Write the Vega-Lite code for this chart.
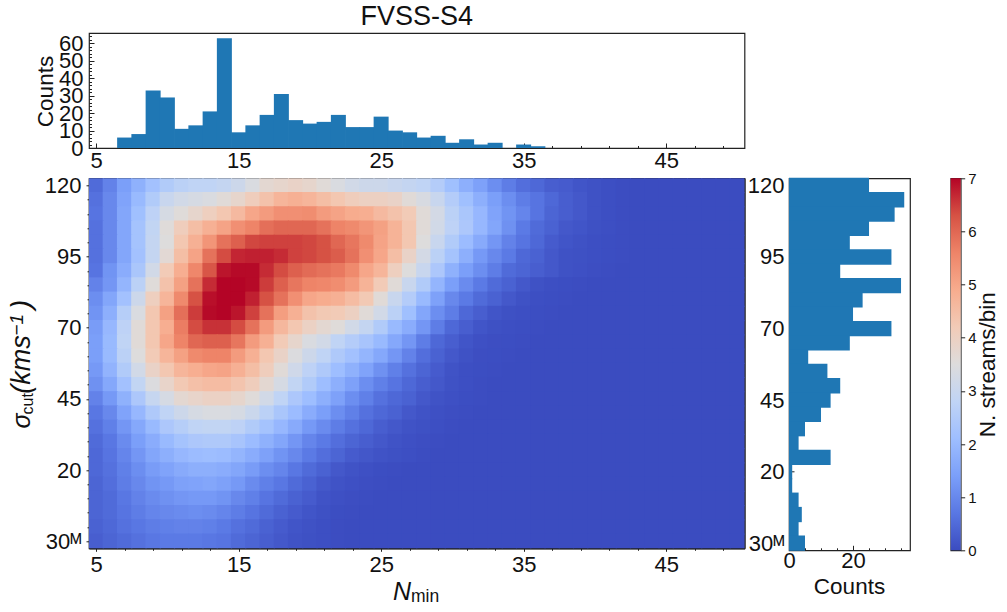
{"$schema":"https://vega.github.io/schema/vega-lite/v6.json","description":"FVSS-S4 stream counts by Nmin and sigma cut","background":"white","padding":{"left":6,"top":2,"right":0,"bottom":0},
"config":{"font":"Liberation Sans","view":{"stroke":"#222222","strokeWidth":1.2},"axis":{"domain":false,"domainColor":"#222222","domainWidth":1.2,"grid":false,"labelFontSize":22,"labelColor":"#111111","labelOverlap":false,"labelBound":false,"labelFlush":false,"tickColor":"#222222","tickWidth":1,"titleFontSize":22.5,"titleFontWeight":"normal","titleColor":"#111111","zindex":1}},
"datasets":{"topHist":[{"n":7,"c":6},{"n":8,"c":8},{"n":9,"c":33},{"n":10,"c":29},{"n":11,"c":11},{"n":12,"c":13},{"n":13,"c":21},{"n":14,"c":63},{"n":15,"c":9},{"n":16,"c":13},{"n":17,"c":19},{"n":18,"c":31},{"n":19,"c":16},{"n":20,"c":14},{"n":21,"c":15},{"n":22,"c":19},{"n":23,"c":12},{"n":24,"c":12},{"n":25,"c":18},{"n":26,"c":10},{"n":27,"c":9},{"n":28,"c":6},{"n":29,"c":7},{"n":30,"c":3},{"n":31,"c":5},{"n":32,"c":2},{"n":33,"c":3},{"n":35,"c":2},{"n":36,"c":1}],
"rightHist":[{"s":120,"c":25},{"s":115,"c":36},{"s":110,"c":33},{"s":105,"c":25},{"s":100,"c":19},{"s":95,"c":32},{"s":90,"c":16},{"s":85,"c":35},{"s":80,"c":23},{"s":75,"c":20},{"s":70,"c":32},{"s":65,"c":19},{"s":60,"c":6},{"s":55,"c":12},{"s":50,"c":16},{"s":45,"c":13},{"s":40,"c":10},{"s":35,"c":5},{"s":30,"c":3},{"s":25,"c":13},{"s":20,"c":1},{"s":15,"c":1},{"s":10,"c":3},{"s":5,"c":4},{"s":0,"c":3},{"s":-5,"c":5}],
"heat":[
{"n":5,"s":120,"v":0.5},{"n":6,"s":120,"v":0.9},{"n":7,"s":120,"v":1.4},{"n":8,"s":120,"v":1.8},{"n":9,"s":120,"v":2.2},{"n":10,"s":120,"v":2.5},{"n":11,"s":120,"v":2.7},{"n":12,"s":120,"v":2.8},{"n":13,"s":120,"v":2.8},{"n":14,"s":120,"v":2.9},{"n":15,"s":120,"v":3.1},{"n":16,"s":120,"v":3.4},{"n":17,"s":120,"v":3.7},{"n":18,"s":120,"v":3.8},{"n":19,"s":120,"v":3.9},{"n":20,"s":120,"v":3.8},{"n":21,"s":120,"v":3.6},{"n":22,"s":120,"v":3.4},{"n":23,"s":120,"v":3.2},{"n":24,"s":120,"v":3.1},{"n":25,"s":120,"v":3.1},{"n":26,"s":120,"v":3},{"n":27,"s":120,"v":2.9},{"n":28,"s":120,"v":2.8},{"n":29,"s":120,"v":2.55},{"n":30,"s":120,"v":2.15},{"n":31,"s":120,"v":1.75},{"n":32,"s":120,"v":1.45},{"n":33,"s":120,"v":1.1},{"n":34,"s":120,"v":0.8},{"n":35,"s":120,"v":0.55},{"n":36,"s":120,"v":0.45},{"n":37,"s":120,"v":0.3},{"n":38,"s":120,"v":0.25},{"n":39,"s":120,"v":0.15},{"n":40,"s":120,"v":0.1},{"n":41,"s":120,"v":0.05},{"n":42,"s":120,"v":0.02},{"n":43,"s":120,"v":0},{"n":44,"s":120,"v":0},{"n":45,"s":120,"v":0},{"n":46,"s":120,"v":0},{"n":47,"s":120,"v":0},{"n":48,"s":120,"v":0},{"n":49,"s":120,"v":0},{"n":50,"s":120,"v":0},
{"n":5,"s":115,"v":0.6},{"n":6,"s":115,"v":1},{"n":7,"s":115,"v":1.5},{"n":8,"s":115,"v":2},{"n":9,"s":115,"v":2.5},{"n":10,"s":115,"v":3},{"n":11,"s":115,"v":3.2},{"n":12,"s":115,"v":3.3},{"n":13,"s":115,"v":3.4},{"n":14,"s":115,"v":3.6},{"n":15,"s":115,"v":3.8},{"n":16,"s":115,"v":4.1},{"n":17,"s":115,"v":4.4},{"n":18,"s":115,"v":4.7},{"n":19,"s":115,"v":4.8},{"n":20,"s":115,"v":4.7},{"n":21,"s":115,"v":4.5},{"n":22,"s":115,"v":4.3},{"n":23,"s":115,"v":4.1},{"n":24,"s":115,"v":4},{"n":25,"s":115,"v":4},{"n":26,"s":115,"v":3.9},{"n":27,"s":115,"v":3.6},{"n":28,"s":115,"v":3.35},{"n":29,"s":115,"v":3},{"n":30,"s":115,"v":2.55},{"n":31,"s":115,"v":2.15},{"n":32,"s":115,"v":1.75},{"n":33,"s":115,"v":1.4},{"n":34,"s":115,"v":1.1},{"n":35,"s":115,"v":0.8},{"n":36,"s":115,"v":0.65},{"n":37,"s":115,"v":0.45},{"n":38,"s":115,"v":0.3},{"n":39,"s":115,"v":0.2},{"n":40,"s":115,"v":0.1},{"n":41,"s":115,"v":0.05},{"n":42,"s":115,"v":0.02},{"n":43,"s":115,"v":0},{"n":44,"s":115,"v":0},{"n":45,"s":115,"v":0},{"n":46,"s":115,"v":0},{"n":47,"s":115,"v":0},{"n":48,"s":115,"v":0},{"n":49,"s":115,"v":0},{"n":50,"s":115,"v":0},
{"n":5,"s":110,"v":0.65},{"n":6,"s":110,"v":1},{"n":7,"s":110,"v":1.55},{"n":8,"s":110,"v":2.15},{"n":9,"s":110,"v":2.75},{"n":10,"s":110,"v":3.3},{"n":11,"s":110,"v":3.55},{"n":12,"s":110,"v":3.8},{"n":13,"s":110,"v":4.05},{"n":14,"s":110,"v":4.3},{"n":15,"s":110,"v":4.6},{"n":16,"s":110,"v":5},{"n":17,"s":110,"v":5.2},{"n":18,"s":110,"v":5.4},{"n":19,"s":110,"v":5.4},{"n":20,"s":110,"v":5.45},{"n":21,"s":110,"v":5.2},{"n":22,"s":110,"v":5.05},{"n":23,"s":110,"v":4.9},{"n":24,"s":110,"v":4.85},{"n":25,"s":110,"v":4.6},{"n":26,"s":110,"v":4.4},{"n":27,"s":110,"v":4.2},{"n":28,"s":110,"v":3.6},{"n":29,"s":110,"v":3.25},{"n":30,"s":110,"v":2.7},{"n":31,"s":110,"v":2.35},{"n":32,"s":110,"v":1.95},{"n":33,"s":110,"v":1.5},{"n":34,"s":110,"v":1.2},{"n":35,"s":110,"v":0.95},{"n":36,"s":110,"v":0.65},{"n":37,"s":110,"v":0.4},{"n":38,"s":110,"v":0.3},{"n":39,"s":110,"v":0.2},{"n":40,"s":110,"v":0.1},{"n":41,"s":110,"v":0.05},{"n":42,"s":110,"v":0.02},{"n":43,"s":110,"v":0},{"n":44,"s":110,"v":0},{"n":45,"s":110,"v":0},{"n":46,"s":110,"v":0},{"n":47,"s":110,"v":0},{"n":48,"s":110,"v":0},{"n":49,"s":110,"v":0},{"n":50,"s":110,"v":0},
{"n":5,"s":105,"v":0.6},{"n":6,"s":105,"v":1},{"n":7,"s":105,"v":1.55},{"n":8,"s":105,"v":2.25},{"n":9,"s":105,"v":2.85},{"n":10,"s":105,"v":3.55},{"n":11,"s":105,"v":4.1},{"n":12,"s":105,"v":4.5},{"n":13,"s":105,"v":4.8},{"n":14,"s":105,"v":5.05},{"n":15,"s":105,"v":5.4},{"n":16,"s":105,"v":5.6},{"n":17,"s":105,"v":5.9},{"n":18,"s":105,"v":6},{"n":19,"s":105,"v":6},{"n":20,"s":105,"v":6},{"n":21,"s":105,"v":5.85},{"n":22,"s":105,"v":5.6},{"n":23,"s":105,"v":5.5},{"n":24,"s":105,"v":5.3},{"n":25,"s":105,"v":5.1},{"n":26,"s":105,"v":4.75},{"n":27,"s":105,"v":4.3},{"n":28,"s":105,"v":3.6},{"n":29,"s":105,"v":3.2},{"n":30,"s":105,"v":2.75},{"n":31,"s":105,"v":2.4},{"n":32,"s":105,"v":1.95},{"n":33,"s":105,"v":1.55},{"n":34,"s":105,"v":1.15},{"n":35,"s":105,"v":0.75},{"n":36,"s":105,"v":0.5},{"n":37,"s":105,"v":0.35},{"n":38,"s":105,"v":0.2},{"n":39,"s":105,"v":0.15},{"n":40,"s":105,"v":0.08},{"n":41,"s":105,"v":0.05},{"n":42,"s":105,"v":0.02},{"n":43,"s":105,"v":0},{"n":44,"s":105,"v":0},{"n":45,"s":105,"v":0},{"n":46,"s":105,"v":0},{"n":47,"s":105,"v":0},{"n":48,"s":105,"v":0},{"n":49,"s":105,"v":0},{"n":50,"s":105,"v":0},
{"n":5,"s":100,"v":0.6},{"n":6,"s":100,"v":1},{"n":7,"s":100,"v":1.55},{"n":8,"s":100,"v":2.25},{"n":9,"s":100,"v":2.9},{"n":10,"s":100,"v":3.5},{"n":11,"s":100,"v":4.3},{"n":12,"s":100,"v":4.8},{"n":13,"s":100,"v":5.3},{"n":14,"s":100,"v":5.85},{"n":15,"s":100,"v":6.1},{"n":16,"s":100,"v":6.4},{"n":17,"s":100,"v":6.45},{"n":18,"s":100,"v":6.45},{"n":19,"s":100,"v":6.45},{"n":20,"s":100,"v":6.4},{"n":21,"s":100,"v":6.3},{"n":22,"s":100,"v":6},{"n":23,"s":100,"v":5.8},{"n":24,"s":100,"v":5.5},{"n":25,"s":100,"v":5.05},{"n":26,"s":100,"v":4.75},{"n":27,"s":100,"v":4.3},{"n":28,"s":100,"v":3.5},{"n":29,"s":100,"v":3},{"n":30,"s":100,"v":2.5},{"n":31,"s":100,"v":2.05},{"n":32,"s":100,"v":1.65},{"n":33,"s":100,"v":1.25},{"n":34,"s":100,"v":0.9},{"n":35,"s":100,"v":0.65},{"n":36,"s":100,"v":0.45},{"n":37,"s":100,"v":0.25},{"n":38,"s":100,"v":0.15},{"n":39,"s":100,"v":0.1},{"n":40,"s":100,"v":0.05},{"n":41,"s":100,"v":0.03},{"n":42,"s":100,"v":0.02},{"n":43,"s":100,"v":0},{"n":44,"s":100,"v":0},{"n":45,"s":100,"v":0},{"n":46,"s":100,"v":0},{"n":47,"s":100,"v":0},{"n":48,"s":100,"v":0},{"n":49,"s":100,"v":0},{"n":50,"s":100,"v":0},
{"n":5,"s":95,"v":0.6},{"n":6,"s":95,"v":1},{"n":7,"s":95,"v":1.55},{"n":8,"s":95,"v":2.2},{"n":9,"s":95,"v":2.9},{"n":10,"s":95,"v":3.65},{"n":11,"s":95,"v":4.5},{"n":12,"s":95,"v":5.05},{"n":13,"s":95,"v":5.85},{"n":14,"s":95,"v":6.35},{"n":15,"s":95,"v":6.7},{"n":16,"s":95,"v":6.75},{"n":17,"s":95,"v":6.75},{"n":18,"s":95,"v":6.65},{"n":19,"s":95,"v":6.45},{"n":20,"s":95,"v":6.4},{"n":21,"s":95,"v":6.3},{"n":22,"s":95,"v":6.15},{"n":23,"s":95,"v":5.85},{"n":24,"s":95,"v":5.4},{"n":25,"s":95,"v":5},{"n":26,"s":95,"v":4.5},{"n":27,"s":95,"v":3.9},{"n":28,"s":95,"v":3.25},{"n":29,"s":95,"v":2.7},{"n":30,"s":95,"v":2.25},{"n":31,"s":95,"v":1.75},{"n":32,"s":95,"v":1.3},{"n":33,"s":95,"v":1},{"n":34,"s":95,"v":0.75},{"n":35,"s":95,"v":0.45},{"n":36,"s":95,"v":0.35},{"n":37,"s":95,"v":0.2},{"n":38,"s":95,"v":0.1},{"n":39,"s":95,"v":0.08},{"n":40,"s":95,"v":0.05},{"n":41,"s":95,"v":0.03},{"n":42,"s":95,"v":0.02},{"n":43,"s":95,"v":0},{"n":44,"s":95,"v":0},{"n":45,"s":95,"v":0},{"n":46,"s":95,"v":0},{"n":47,"s":95,"v":0},{"n":48,"s":95,"v":0},{"n":49,"s":95,"v":0},{"n":50,"s":95,"v":0},
{"n":5,"s":90,"v":0.65},{"n":6,"s":90,"v":1.2},{"n":7,"s":90,"v":1.7},{"n":8,"s":90,"v":2.35},{"n":9,"s":90,"v":3.2},{"n":10,"s":90,"v":4.2},{"n":11,"s":90,"v":4.85},{"n":12,"s":90,"v":5.55},{"n":13,"s":90,"v":6.25},{"n":14,"s":90,"v":6.85},{"n":15,"s":90,"v":6.95},{"n":16,"s":90,"v":6.95},{"n":17,"s":90,"v":6.65},{"n":18,"s":90,"v":6.35},{"n":19,"s":90,"v":6.1},{"n":20,"s":90,"v":5.95},{"n":21,"s":90,"v":5.85},{"n":22,"s":90,"v":5.75},{"n":23,"s":90,"v":5.5},{"n":24,"s":90,"v":5},{"n":25,"s":90,"v":4.7},{"n":26,"s":90,"v":4.05},{"n":27,"s":90,"v":3.5},{"n":28,"s":90,"v":3},{"n":29,"s":90,"v":2.4},{"n":30,"s":90,"v":1.8},{"n":31,"s":90,"v":1.4},{"n":32,"s":90,"v":1.1},{"n":33,"s":90,"v":0.8},{"n":34,"s":90,"v":0.5},{"n":35,"s":90,"v":0.4},{"n":36,"s":90,"v":0.3},{"n":37,"s":90,"v":0.2},{"n":38,"s":90,"v":0.1},{"n":39,"s":90,"v":0.07},{"n":40,"s":90,"v":0.04},{"n":41,"s":90,"v":0.02},{"n":42,"s":90,"v":0},{"n":43,"s":90,"v":0},{"n":44,"s":90,"v":0},{"n":45,"s":90,"v":0},{"n":46,"s":90,"v":0},{"n":47,"s":90,"v":0},{"n":48,"s":90,"v":0},{"n":49,"s":90,"v":0},{"n":50,"s":90,"v":0},
{"n":5,"s":85,"v":0.9},{"n":6,"s":85,"v":1.25},{"n":7,"s":85,"v":1.9},{"n":8,"s":85,"v":2.7},{"n":9,"s":85,"v":3.55},{"n":10,"s":85,"v":4.4},{"n":11,"s":85,"v":5.1},{"n":12,"s":85,"v":5.85},{"n":13,"s":85,"v":6.65},{"n":14,"s":85,"v":7},{"n":15,"s":85,"v":7},{"n":16,"s":85,"v":6.95},{"n":17,"s":85,"v":6.5},{"n":18,"s":85,"v":6.1},{"n":19,"s":85,"v":5.8},{"n":20,"s":85,"v":5.6},{"n":21,"s":85,"v":5.55},{"n":22,"s":85,"v":5.45},{"n":23,"s":85,"v":5.2},{"n":24,"s":85,"v":4.75},{"n":25,"s":85,"v":4.2},{"n":26,"s":85,"v":3.6},{"n":27,"s":85,"v":3},{"n":28,"s":85,"v":2.5},{"n":29,"s":85,"v":1.9},{"n":30,"s":85,"v":1.4},{"n":31,"s":85,"v":1.05},{"n":32,"s":85,"v":0.75},{"n":33,"s":85,"v":0.5},{"n":34,"s":85,"v":0.35},{"n":35,"s":85,"v":0.2},{"n":36,"s":85,"v":0.1},{"n":37,"s":85,"v":0.05},{"n":38,"s":85,"v":0.03},{"n":39,"s":85,"v":0.02},{"n":40,"s":85,"v":0},{"n":41,"s":85,"v":0},{"n":42,"s":85,"v":0},{"n":43,"s":85,"v":0},{"n":44,"s":85,"v":0},{"n":45,"s":85,"v":0},{"n":46,"s":85,"v":0},{"n":47,"s":85,"v":0},{"n":48,"s":85,"v":0},{"n":49,"s":85,"v":0},{"n":50,"s":85,"v":0},
{"n":5,"s":80,"v":1.1},{"n":6,"s":80,"v":1.55},{"n":7,"s":80,"v":2.2},{"n":8,"s":80,"v":3.1},{"n":9,"s":80,"v":4.05},{"n":10,"s":80,"v":4.7},{"n":11,"s":80,"v":5.5},{"n":12,"s":80,"v":6.3},{"n":13,"s":80,"v":6.9},{"n":14,"s":80,"v":7},{"n":15,"s":80,"v":7},{"n":16,"s":80,"v":6.75},{"n":17,"s":80,"v":6.3},{"n":18,"s":80,"v":5.85},{"n":19,"s":80,"v":5.4},{"n":20,"s":80,"v":5},{"n":21,"s":80,"v":4.9},{"n":22,"s":80,"v":4.8},{"n":23,"s":80,"v":4.55},{"n":24,"s":80,"v":4.25},{"n":25,"s":80,"v":3.6},{"n":26,"s":80,"v":3},{"n":27,"s":80,"v":2.55},{"n":28,"s":80,"v":2},{"n":29,"s":80,"v":1.45},{"n":30,"s":80,"v":1},{"n":31,"s":80,"v":0.75},{"n":32,"s":80,"v":0.5},{"n":33,"s":80,"v":0.35},{"n":34,"s":80,"v":0.2},{"n":35,"s":80,"v":0.1},{"n":36,"s":80,"v":0.05},{"n":37,"s":80,"v":0.03},{"n":38,"s":80,"v":0.02},{"n":39,"s":80,"v":0},{"n":40,"s":80,"v":0},{"n":41,"s":80,"v":0},{"n":42,"s":80,"v":0},{"n":43,"s":80,"v":0},{"n":44,"s":80,"v":0},{"n":45,"s":80,"v":0},{"n":46,"s":80,"v":0},{"n":47,"s":80,"v":0},{"n":48,"s":80,"v":0},{"n":49,"s":80,"v":0},{"n":50,"s":80,"v":0},
{"n":5,"s":75,"v":1.2},{"n":6,"s":75,"v":1.75},{"n":7,"s":75,"v":2.6},{"n":8,"s":75,"v":3.4},{"n":9,"s":75,"v":4.3},{"n":10,"s":75,"v":5.1},{"n":11,"s":75,"v":5.9},{"n":12,"s":75,"v":6.5},{"n":13,"s":75,"v":6.95},{"n":14,"s":75,"v":7},{"n":15,"s":75,"v":6.85},{"n":16,"s":75,"v":6.45},{"n":17,"s":75,"v":5.85},{"n":18,"s":75,"v":5.15},{"n":19,"s":75,"v":4.8},{"n":20,"s":75,"v":4.4},{"n":21,"s":75,"v":4.25},{"n":22,"s":75,"v":4.2},{"n":23,"s":75,"v":4},{"n":24,"s":75,"v":3.6},{"n":25,"s":75,"v":3.2},{"n":26,"s":75,"v":2.7},{"n":27,"s":75,"v":2.15},{"n":28,"s":75,"v":1.55},{"n":29,"s":75,"v":1.1},{"n":30,"s":75,"v":0.8},{"n":31,"s":75,"v":0.45},{"n":32,"s":75,"v":0.3},{"n":33,"s":75,"v":0.15},{"n":34,"s":75,"v":0.08},{"n":35,"s":75,"v":0.05},{"n":36,"s":75,"v":0.03},{"n":37,"s":75,"v":0.02},{"n":38,"s":75,"v":0},{"n":39,"s":75,"v":0},{"n":40,"s":75,"v":0},{"n":41,"s":75,"v":0},{"n":42,"s":75,"v":0},{"n":43,"s":75,"v":0},{"n":44,"s":75,"v":0},{"n":45,"s":75,"v":0},{"n":46,"s":75,"v":0},{"n":47,"s":75,"v":0},{"n":48,"s":75,"v":0},{"n":49,"s":75,"v":0},{"n":50,"s":75,"v":0},
{"n":5,"s":70,"v":1.35},{"n":6,"s":70,"v":1.95},{"n":7,"s":70,"v":2.75},{"n":8,"s":70,"v":3.6},{"n":9,"s":70,"v":4.3},{"n":10,"s":70,"v":4.85},{"n":11,"s":70,"v":5.7},{"n":12,"s":70,"v":6.35},{"n":13,"s":70,"v":6.6},{"n":14,"s":70,"v":6.6},{"n":15,"s":70,"v":6.35},{"n":16,"s":70,"v":5.85},{"n":17,"s":70,"v":5.2},{"n":18,"s":70,"v":4.65},{"n":19,"s":70,"v":4.3},{"n":20,"s":70,"v":3.95},{"n":21,"s":70,"v":3.7},{"n":22,"s":70,"v":3.55},{"n":23,"s":70,"v":3.2},{"n":24,"s":70,"v":2.9},{"n":25,"s":70,"v":2.5},{"n":26,"s":70,"v":2},{"n":27,"s":70,"v":1.7},{"n":28,"s":70,"v":1.25},{"n":29,"s":70,"v":0.8},{"n":30,"s":70,"v":0.45},{"n":31,"s":70,"v":0.3},{"n":32,"s":70,"v":0.15},{"n":33,"s":70,"v":0.08},{"n":34,"s":70,"v":0.05},{"n":35,"s":70,"v":0.03},{"n":36,"s":70,"v":0.02},{"n":37,"s":70,"v":0},{"n":38,"s":70,"v":0},{"n":39,"s":70,"v":0},{"n":40,"s":70,"v":0},{"n":41,"s":70,"v":0},{"n":42,"s":70,"v":0},{"n":43,"s":70,"v":0},{"n":44,"s":70,"v":0},{"n":45,"s":70,"v":0},{"n":46,"s":70,"v":0},{"n":47,"s":70,"v":0},{"n":48,"s":70,"v":0},{"n":49,"s":70,"v":0},{"n":50,"s":70,"v":0},
{"n":5,"s":65,"v":1.4},{"n":6,"s":65,"v":2},{"n":7,"s":65,"v":2.8},{"n":8,"s":65,"v":3.6},{"n":9,"s":65,"v":4.3},{"n":10,"s":65,"v":5},{"n":11,"s":65,"v":5.6},{"n":12,"s":65,"v":6},{"n":13,"s":65,"v":6.1},{"n":14,"s":65,"v":6.1},{"n":15,"s":65,"v":5.8},{"n":16,"s":65,"v":5.2},{"n":17,"s":65,"v":4.8},{"n":18,"s":65,"v":4.2},{"n":19,"s":65,"v":3.8},{"n":20,"s":65,"v":3.4},{"n":21,"s":65,"v":3.2},{"n":22,"s":65,"v":2.8},{"n":23,"s":65,"v":2.55},{"n":24,"s":65,"v":2.3},{"n":25,"s":65,"v":2},{"n":26,"s":65,"v":1.6},{"n":27,"s":65,"v":1.25},{"n":28,"s":65,"v":0.8},{"n":29,"s":65,"v":0.45},{"n":30,"s":65,"v":0.3},{"n":31,"s":65,"v":0.15},{"n":32,"s":65,"v":0.07},{"n":33,"s":65,"v":0.04},{"n":34,"s":65,"v":0.03},{"n":35,"s":65,"v":0.02},{"n":36,"s":65,"v":0},{"n":37,"s":65,"v":0},{"n":38,"s":65,"v":0},{"n":39,"s":65,"v":0},{"n":40,"s":65,"v":0},{"n":41,"s":65,"v":0},{"n":42,"s":65,"v":0},{"n":43,"s":65,"v":0},{"n":44,"s":65,"v":0},{"n":45,"s":65,"v":0},{"n":46,"s":65,"v":0},{"n":47,"s":65,"v":0},{"n":48,"s":65,"v":0},{"n":49,"s":65,"v":0},{"n":50,"s":65,"v":0},
{"n":5,"s":60,"v":1.4},{"n":6,"s":60,"v":2},{"n":7,"s":60,"v":2.7},{"n":8,"s":60,"v":3.5},{"n":9,"s":60,"v":4.2},{"n":10,"s":60,"v":4.7},{"n":11,"s":60,"v":5.1},{"n":12,"s":60,"v":5.5},{"n":13,"s":60,"v":5.6},{"n":14,"s":60,"v":5.6},{"n":15,"s":60,"v":5.2},{"n":16,"s":60,"v":4.8},{"n":17,"s":60,"v":4.3},{"n":18,"s":60,"v":3.9},{"n":19,"s":60,"v":3.45},{"n":20,"s":60,"v":3.1},{"n":21,"s":60,"v":2.8},{"n":22,"s":60,"v":2.45},{"n":23,"s":60,"v":2.2},{"n":24,"s":60,"v":1.9},{"n":25,"s":60,"v":1.6},{"n":26,"s":60,"v":1.25},{"n":27,"s":60,"v":0.9},{"n":28,"s":60,"v":0.55},{"n":29,"s":60,"v":0.35},{"n":30,"s":60,"v":0.2},{"n":31,"s":60,"v":0.1},{"n":32,"s":60,"v":0.04},{"n":33,"s":60,"v":0.03},{"n":34,"s":60,"v":0.02},{"n":35,"s":60,"v":0},{"n":36,"s":60,"v":0},{"n":37,"s":60,"v":0},{"n":38,"s":60,"v":0},{"n":39,"s":60,"v":0},{"n":40,"s":60,"v":0},{"n":41,"s":60,"v":0},{"n":42,"s":60,"v":0},{"n":43,"s":60,"v":0},{"n":44,"s":60,"v":0},{"n":45,"s":60,"v":0},{"n":46,"s":60,"v":0},{"n":47,"s":60,"v":0},{"n":48,"s":60,"v":0},{"n":49,"s":60,"v":0},{"n":50,"s":60,"v":0},
{"n":5,"s":55,"v":1.3},{"n":6,"s":55,"v":1.85},{"n":7,"s":55,"v":2.5},{"n":8,"s":55,"v":3.2},{"n":9,"s":55,"v":3.9},{"n":10,"s":55,"v":4.3},{"n":11,"s":55,"v":4.7},{"n":12,"s":55,"v":4.85},{"n":13,"s":55,"v":5},{"n":14,"s":55,"v":5.05},{"n":15,"s":55,"v":4.8},{"n":16,"s":55,"v":4.5},{"n":17,"s":55,"v":4.1},{"n":18,"s":55,"v":3.6},{"n":19,"s":55,"v":3.15},{"n":20,"s":55,"v":2.75},{"n":21,"s":55,"v":2.45},{"n":22,"s":55,"v":2.1},{"n":23,"s":55,"v":1.8},{"n":24,"s":55,"v":1.5},{"n":25,"s":55,"v":1.15},{"n":26,"s":55,"v":0.85},{"n":27,"s":55,"v":0.6},{"n":28,"s":55,"v":0.4},{"n":29,"s":55,"v":0.25},{"n":30,"s":55,"v":0.12},{"n":31,"s":55,"v":0.05},{"n":32,"s":55,"v":0.03},{"n":33,"s":55,"v":0.02},{"n":34,"s":55,"v":0},{"n":35,"s":55,"v":0},{"n":36,"s":55,"v":0},{"n":37,"s":55,"v":0},{"n":38,"s":55,"v":0},{"n":39,"s":55,"v":0},{"n":40,"s":55,"v":0},{"n":41,"s":55,"v":0},{"n":42,"s":55,"v":0},{"n":43,"s":55,"v":0},{"n":44,"s":55,"v":0},{"n":45,"s":55,"v":0},{"n":46,"s":55,"v":0},{"n":47,"s":55,"v":0},{"n":48,"s":55,"v":0},{"n":49,"s":55,"v":0},{"n":50,"s":55,"v":0},
{"n":5,"s":50,"v":1.15},{"n":6,"s":50,"v":1.6},{"n":7,"s":50,"v":2.2},{"n":8,"s":50,"v":2.85},{"n":9,"s":50,"v":3.45},{"n":10,"s":50,"v":3.85},{"n":11,"s":50,"v":4.25},{"n":12,"s":50,"v":4.45},{"n":13,"s":50,"v":4.55},{"n":14,"s":50,"v":4.55},{"n":15,"s":50,"v":4.35},{"n":16,"s":50,"v":4.1},{"n":17,"s":50,"v":3.7},{"n":18,"s":50,"v":3.3},{"n":19,"s":50,"v":2.85},{"n":20,"s":50,"v":2.5},{"n":21,"s":50,"v":2.1},{"n":22,"s":50,"v":1.75},{"n":23,"s":50,"v":1.45},{"n":24,"s":50,"v":1.1},{"n":25,"s":50,"v":0.85},{"n":26,"s":50,"v":0.65},{"n":27,"s":50,"v":0.45},{"n":28,"s":50,"v":0.3},{"n":29,"s":50,"v":0.2},{"n":30,"s":50,"v":0.1},{"n":31,"s":50,"v":0.05},{"n":32,"s":50,"v":0.02},{"n":33,"s":50,"v":0},{"n":34,"s":50,"v":0},{"n":35,"s":50,"v":0},{"n":36,"s":50,"v":0},{"n":37,"s":50,"v":0},{"n":38,"s":50,"v":0},{"n":39,"s":50,"v":0},{"n":40,"s":50,"v":0},{"n":41,"s":50,"v":0},{"n":42,"s":50,"v":0},{"n":43,"s":50,"v":0},{"n":44,"s":50,"v":0},{"n":45,"s":50,"v":0},{"n":46,"s":50,"v":0},{"n":47,"s":50,"v":0},{"n":48,"s":50,"v":0},{"n":49,"s":50,"v":0},{"n":50,"s":50,"v":0},
{"n":5,"s":45,"v":0.9},{"n":6,"s":45,"v":1.3},{"n":7,"s":45,"v":1.8},{"n":8,"s":45,"v":2.4},{"n":9,"s":45,"v":2.95},{"n":10,"s":45,"v":3.3},{"n":11,"s":45,"v":3.7},{"n":12,"s":45,"v":3.85},{"n":13,"s":45,"v":3.95},{"n":14,"s":45,"v":3.95},{"n":15,"s":45,"v":3.8},{"n":16,"s":45,"v":3.55},{"n":17,"s":45,"v":3.2},{"n":18,"s":45,"v":2.8},{"n":19,"s":45,"v":2.4},{"n":20,"s":45,"v":2.1},{"n":21,"s":45,"v":1.75},{"n":22,"s":45,"v":1.45},{"n":23,"s":45,"v":1.1},{"n":24,"s":45,"v":0.85},{"n":25,"s":45,"v":0.6},{"n":26,"s":45,"v":0.45},{"n":27,"s":45,"v":0.35},{"n":28,"s":45,"v":0.2},{"n":29,"s":45,"v":0.12},{"n":30,"s":45,"v":0.07},{"n":31,"s":45,"v":0.03},{"n":32,"s":45,"v":0.02},{"n":33,"s":45,"v":0},{"n":34,"s":45,"v":0},{"n":35,"s":45,"v":0},{"n":36,"s":45,"v":0},{"n":37,"s":45,"v":0},{"n":38,"s":45,"v":0},{"n":39,"s":45,"v":0},{"n":40,"s":45,"v":0},{"n":41,"s":45,"v":0},{"n":42,"s":45,"v":0},{"n":43,"s":45,"v":0},{"n":44,"s":45,"v":0},{"n":45,"s":45,"v":0},{"n":46,"s":45,"v":0},{"n":47,"s":45,"v":0},{"n":48,"s":45,"v":0},{"n":49,"s":45,"v":0},{"n":50,"s":45,"v":0},
{"n":5,"s":40,"v":0.7},{"n":6,"s":40,"v":1},{"n":7,"s":40,"v":1.5},{"n":8,"s":40,"v":1.95},{"n":9,"s":40,"v":2.45},{"n":10,"s":40,"v":2.8},{"n":11,"s":40,"v":3.1},{"n":12,"s":40,"v":3.3},{"n":13,"s":40,"v":3.4},{"n":14,"s":40,"v":3.4},{"n":15,"s":40,"v":3.3},{"n":16,"s":40,"v":3.05},{"n":17,"s":40,"v":2.7},{"n":18,"s":40,"v":2.35},{"n":19,"s":40,"v":2.05},{"n":20,"s":40,"v":1.7},{"n":21,"s":40,"v":1.4},{"n":22,"s":40,"v":1.1},{"n":23,"s":40,"v":0.85},{"n":24,"s":40,"v":0.6},{"n":25,"s":40,"v":0.45},{"n":26,"s":40,"v":0.35},{"n":27,"s":40,"v":0.2},{"n":28,"s":40,"v":0.12},{"n":29,"s":40,"v":0.07},{"n":30,"s":40,"v":0.04},{"n":31,"s":40,"v":0.02},{"n":32,"s":40,"v":0},{"n":33,"s":40,"v":0},{"n":34,"s":40,"v":0},{"n":35,"s":40,"v":0},{"n":36,"s":40,"v":0},{"n":37,"s":40,"v":0},{"n":38,"s":40,"v":0},{"n":39,"s":40,"v":0},{"n":40,"s":40,"v":0},{"n":41,"s":40,"v":0},{"n":42,"s":40,"v":0},{"n":43,"s":40,"v":0},{"n":44,"s":40,"v":0},{"n":45,"s":40,"v":0},{"n":46,"s":40,"v":0},{"n":47,"s":40,"v":0},{"n":48,"s":40,"v":0},{"n":49,"s":40,"v":0},{"n":50,"s":40,"v":0},
{"n":5,"s":35,"v":0.6},{"n":6,"s":35,"v":0.85},{"n":7,"s":35,"v":1.25},{"n":8,"s":35,"v":1.6},{"n":9,"s":35,"v":2},{"n":10,"s":35,"v":2.4},{"n":11,"s":35,"v":2.6},{"n":12,"s":35,"v":2.8},{"n":13,"s":35,"v":2.85},{"n":14,"s":35,"v":2.85},{"n":15,"s":35,"v":2.75},{"n":16,"s":35,"v":2.5},{"n":17,"s":35,"v":2.25},{"n":18,"s":35,"v":1.95},{"n":19,"s":35,"v":1.65},{"n":20,"s":35,"v":1.3},{"n":21,"s":35,"v":1.05},{"n":22,"s":35,"v":0.8},{"n":23,"s":35,"v":0.6},{"n":24,"s":35,"v":0.45},{"n":25,"s":35,"v":0.3},{"n":26,"s":35,"v":0.2},{"n":27,"s":35,"v":0.12},{"n":28,"s":35,"v":0.08},{"n":29,"s":35,"v":0.05},{"n":30,"s":35,"v":0.02},{"n":31,"s":35,"v":0},{"n":32,"s":35,"v":0},{"n":33,"s":35,"v":0},{"n":34,"s":35,"v":0},{"n":35,"s":35,"v":0},{"n":36,"s":35,"v":0},{"n":37,"s":35,"v":0},{"n":38,"s":35,"v":0},{"n":39,"s":35,"v":0},{"n":40,"s":35,"v":0},{"n":41,"s":35,"v":0},{"n":42,"s":35,"v":0},{"n":43,"s":35,"v":0},{"n":44,"s":35,"v":0},{"n":45,"s":35,"v":0},{"n":46,"s":35,"v":0},{"n":47,"s":35,"v":0},{"n":48,"s":35,"v":0},{"n":49,"s":35,"v":0},{"n":50,"s":35,"v":0},
{"n":5,"s":30,"v":0.5},{"n":6,"s":30,"v":0.7},{"n":7,"s":30,"v":1.05},{"n":8,"s":30,"v":1.4},{"n":9,"s":30,"v":1.7},{"n":10,"s":30,"v":2},{"n":11,"s":30,"v":2.25},{"n":12,"s":30,"v":2.4},{"n":13,"s":30,"v":2.45},{"n":14,"s":30,"v":2.45},{"n":15,"s":30,"v":2.3},{"n":16,"s":30,"v":2.05},{"n":17,"s":30,"v":1.8},{"n":18,"s":30,"v":1.55},{"n":19,"s":30,"v":1.25},{"n":20,"s":30,"v":0.95},{"n":21,"s":30,"v":0.75},{"n":22,"s":30,"v":0.55},{"n":23,"s":30,"v":0.4},{"n":24,"s":30,"v":0.3},{"n":25,"s":30,"v":0.2},{"n":26,"s":30,"v":0.12},{"n":27,"s":30,"v":0.07},{"n":28,"s":30,"v":0.04},{"n":29,"s":30,"v":0.02},{"n":30,"s":30,"v":0},{"n":31,"s":30,"v":0},{"n":32,"s":30,"v":0},{"n":33,"s":30,"v":0},{"n":34,"s":30,"v":0},{"n":35,"s":30,"v":0},{"n":36,"s":30,"v":0},{"n":37,"s":30,"v":0},{"n":38,"s":30,"v":0},{"n":39,"s":30,"v":0},{"n":40,"s":30,"v":0},{"n":41,"s":30,"v":0},{"n":42,"s":30,"v":0},{"n":43,"s":30,"v":0},{"n":44,"s":30,"v":0},{"n":45,"s":30,"v":0},{"n":46,"s":30,"v":0},{"n":47,"s":30,"v":0},{"n":48,"s":30,"v":0},{"n":49,"s":30,"v":0},{"n":50,"s":30,"v":0},
{"n":5,"s":25,"v":0.45},{"n":6,"s":25,"v":0.65},{"n":7,"s":25,"v":0.95},{"n":8,"s":25,"v":1.25},{"n":9,"s":25,"v":1.55},{"n":10,"s":25,"v":1.75},{"n":11,"s":25,"v":1.95},{"n":12,"s":25,"v":2.05},{"n":13,"s":25,"v":2.1},{"n":14,"s":25,"v":2.05},{"n":15,"s":25,"v":1.9},{"n":16,"s":25,"v":1.7},{"n":17,"s":25,"v":1.45},{"n":18,"s":25,"v":1.2},{"n":19,"s":25,"v":1},{"n":20,"s":25,"v":0.75},{"n":21,"s":25,"v":0.55},{"n":22,"s":25,"v":0.4},{"n":23,"s":25,"v":0.25},{"n":24,"s":25,"v":0.18},{"n":25,"s":25,"v":0.12},{"n":26,"s":25,"v":0.08},{"n":27,"s":25,"v":0.05},{"n":28,"s":25,"v":0.02},{"n":29,"s":25,"v":0},{"n":30,"s":25,"v":0},{"n":31,"s":25,"v":0},{"n":32,"s":25,"v":0},{"n":33,"s":25,"v":0},{"n":34,"s":25,"v":0},{"n":35,"s":25,"v":0},{"n":36,"s":25,"v":0},{"n":37,"s":25,"v":0},{"n":38,"s":25,"v":0},{"n":39,"s":25,"v":0},{"n":40,"s":25,"v":0},{"n":41,"s":25,"v":0},{"n":42,"s":25,"v":0},{"n":43,"s":25,"v":0},{"n":44,"s":25,"v":0},{"n":45,"s":25,"v":0},{"n":46,"s":25,"v":0},{"n":47,"s":25,"v":0},{"n":48,"s":25,"v":0},{"n":49,"s":25,"v":0},{"n":50,"s":25,"v":0},
{"n":5,"s":20,"v":0.45},{"n":6,"s":20,"v":0.6},{"n":7,"s":20,"v":0.85},{"n":8,"s":20,"v":1.1},{"n":9,"s":20,"v":1.35},{"n":10,"s":20,"v":1.5},{"n":11,"s":20,"v":1.65},{"n":12,"s":20,"v":1.75},{"n":13,"s":20,"v":1.75},{"n":14,"s":20,"v":1.7},{"n":15,"s":20,"v":1.55},{"n":16,"s":20,"v":1.35},{"n":17,"s":20,"v":1.1},{"n":18,"s":20,"v":0.95},{"n":19,"s":20,"v":0.7},{"n":20,"s":20,"v":0.5},{"n":21,"s":20,"v":0.35},{"n":22,"s":20,"v":0.2},{"n":23,"s":20,"v":0.12},{"n":24,"s":20,"v":0.07},{"n":25,"s":20,"v":0.03},{"n":26,"s":20,"v":0.02},{"n":27,"s":20,"v":0},{"n":28,"s":20,"v":0},{"n":29,"s":20,"v":0},{"n":30,"s":20,"v":0},{"n":31,"s":20,"v":0},{"n":32,"s":20,"v":0},{"n":33,"s":20,"v":0},{"n":34,"s":20,"v":0},{"n":35,"s":20,"v":0},{"n":36,"s":20,"v":0},{"n":37,"s":20,"v":0},{"n":38,"s":20,"v":0},{"n":39,"s":20,"v":0},{"n":40,"s":20,"v":0},{"n":41,"s":20,"v":0},{"n":42,"s":20,"v":0},{"n":43,"s":20,"v":0},{"n":44,"s":20,"v":0},{"n":45,"s":20,"v":0},{"n":46,"s":20,"v":0},{"n":47,"s":20,"v":0},{"n":48,"s":20,"v":0},{"n":49,"s":20,"v":0},{"n":50,"s":20,"v":0},
{"n":5,"s":15,"v":0.4},{"n":6,"s":15,"v":0.55},{"n":7,"s":15,"v":0.8},{"n":8,"s":15,"v":1},{"n":9,"s":15,"v":1.2},{"n":10,"s":15,"v":1.3},{"n":11,"s":15,"v":1.45},{"n":12,"s":15,"v":1.5},{"n":13,"s":15,"v":1.55},{"n":14,"s":15,"v":1.45},{"n":15,"s":15,"v":1.3},{"n":16,"s":15,"v":1.05},{"n":17,"s":15,"v":0.85},{"n":18,"s":15,"v":0.7},{"n":19,"s":15,"v":0.5},{"n":20,"s":15,"v":0.35},{"n":21,"s":15,"v":0.2},{"n":22,"s":15,"v":0.12},{"n":23,"s":15,"v":0.07},{"n":24,"s":15,"v":0.04},{"n":25,"s":15,"v":0.02},{"n":26,"s":15,"v":0},{"n":27,"s":15,"v":0},{"n":28,"s":15,"v":0},{"n":29,"s":15,"v":0},{"n":30,"s":15,"v":0},{"n":31,"s":15,"v":0},{"n":32,"s":15,"v":0},{"n":33,"s":15,"v":0},{"n":34,"s":15,"v":0},{"n":35,"s":15,"v":0},{"n":36,"s":15,"v":0},{"n":37,"s":15,"v":0},{"n":38,"s":15,"v":0},{"n":39,"s":15,"v":0},{"n":40,"s":15,"v":0},{"n":41,"s":15,"v":0},{"n":42,"s":15,"v":0},{"n":43,"s":15,"v":0},{"n":44,"s":15,"v":0},{"n":45,"s":15,"v":0},{"n":46,"s":15,"v":0},{"n":47,"s":15,"v":0},{"n":48,"s":15,"v":0},{"n":49,"s":15,"v":0},{"n":50,"s":15,"v":0},
{"n":5,"s":10,"v":0.4},{"n":6,"s":10,"v":0.5},{"n":7,"s":10,"v":0.7},{"n":8,"s":10,"v":0.9},{"n":9,"s":10,"v":1.05},{"n":10,"s":10,"v":1.15},{"n":11,"s":10,"v":1.25},{"n":12,"s":10,"v":1.3},{"n":13,"s":10,"v":1.3},{"n":14,"s":10,"v":1.2},{"n":15,"s":10,"v":1},{"n":16,"s":10,"v":0.85},{"n":17,"s":10,"v":0.65},{"n":18,"s":10,"v":0.5},{"n":19,"s":10,"v":0.35},{"n":20,"s":10,"v":0.25},{"n":21,"s":10,"v":0.12},{"n":22,"s":10,"v":0.07},{"n":23,"s":10,"v":0.04},{"n":24,"s":10,"v":0.02},{"n":25,"s":10,"v":0},{"n":26,"s":10,"v":0},{"n":27,"s":10,"v":0},{"n":28,"s":10,"v":0},{"n":29,"s":10,"v":0},{"n":30,"s":10,"v":0},{"n":31,"s":10,"v":0},{"n":32,"s":10,"v":0},{"n":33,"s":10,"v":0},{"n":34,"s":10,"v":0},{"n":35,"s":10,"v":0},{"n":36,"s":10,"v":0},{"n":37,"s":10,"v":0},{"n":38,"s":10,"v":0},{"n":39,"s":10,"v":0},{"n":40,"s":10,"v":0},{"n":41,"s":10,"v":0},{"n":42,"s":10,"v":0},{"n":43,"s":10,"v":0},{"n":44,"s":10,"v":0},{"n":45,"s":10,"v":0},{"n":46,"s":10,"v":0},{"n":47,"s":10,"v":0},{"n":48,"s":10,"v":0},{"n":49,"s":10,"v":0},{"n":50,"s":10,"v":0},
{"n":5,"s":5,"v":0.4},{"n":6,"s":5,"v":0.5},{"n":7,"s":5,"v":0.65},{"n":8,"s":5,"v":0.8},{"n":9,"s":5,"v":0.95},{"n":10,"s":5,"v":1},{"n":11,"s":5,"v":1.05},{"n":12,"s":5,"v":1.1},{"n":13,"s":5,"v":1.05},{"n":14,"s":5,"v":0.95},{"n":15,"s":5,"v":0.8},{"n":16,"s":5,"v":0.65},{"n":17,"s":5,"v":0.5},{"n":18,"s":5,"v":0.35},{"n":19,"s":5,"v":0.25},{"n":20,"s":5,"v":0.15},{"n":21,"s":5,"v":0.08},{"n":22,"s":5,"v":0.03},{"n":23,"s":5,"v":0.02},{"n":24,"s":5,"v":0},{"n":25,"s":5,"v":0},{"n":26,"s":5,"v":0},{"n":27,"s":5,"v":0},{"n":28,"s":5,"v":0},{"n":29,"s":5,"v":0},{"n":30,"s":5,"v":0},{"n":31,"s":5,"v":0},{"n":32,"s":5,"v":0},{"n":33,"s":5,"v":0},{"n":34,"s":5,"v":0},{"n":35,"s":5,"v":0},{"n":36,"s":5,"v":0},{"n":37,"s":5,"v":0},{"n":38,"s":5,"v":0},{"n":39,"s":5,"v":0},{"n":40,"s":5,"v":0},{"n":41,"s":5,"v":0},{"n":42,"s":5,"v":0},{"n":43,"s":5,"v":0},{"n":44,"s":5,"v":0},{"n":45,"s":5,"v":0},{"n":46,"s":5,"v":0},{"n":47,"s":5,"v":0},{"n":48,"s":5,"v":0},{"n":49,"s":5,"v":0},{"n":50,"s":5,"v":0},
{"n":5,"s":0,"v":0.35},{"n":6,"s":0,"v":0.45},{"n":7,"s":0,"v":0.6},{"n":8,"s":0,"v":0.7},{"n":9,"s":0,"v":0.8},{"n":10,"s":0,"v":0.85},{"n":11,"s":0,"v":0.9},{"n":12,"s":0,"v":0.9},{"n":13,"s":0,"v":0.85},{"n":14,"s":0,"v":0.75},{"n":15,"s":0,"v":0.6},{"n":16,"s":0,"v":0.5},{"n":17,"s":0,"v":0.35},{"n":18,"s":0,"v":0.25},{"n":19,"s":0,"v":0.15},{"n":20,"s":0,"v":0.1},{"n":21,"s":0,"v":0.05},{"n":22,"s":0,"v":0.02},{"n":23,"s":0,"v":0},{"n":24,"s":0,"v":0},{"n":25,"s":0,"v":0},{"n":26,"s":0,"v":0},{"n":27,"s":0,"v":0},{"n":28,"s":0,"v":0},{"n":29,"s":0,"v":0},{"n":30,"s":0,"v":0},{"n":31,"s":0,"v":0},{"n":32,"s":0,"v":0},{"n":33,"s":0,"v":0},{"n":34,"s":0,"v":0},{"n":35,"s":0,"v":0},{"n":36,"s":0,"v":0},{"n":37,"s":0,"v":0},{"n":38,"s":0,"v":0},{"n":39,"s":0,"v":0},{"n":40,"s":0,"v":0},{"n":41,"s":0,"v":0},{"n":42,"s":0,"v":0},{"n":43,"s":0,"v":0},{"n":44,"s":0,"v":0},{"n":45,"s":0,"v":0},{"n":46,"s":0,"v":0},{"n":47,"s":0,"v":0},{"n":48,"s":0,"v":0},{"n":49,"s":0,"v":0},{"n":50,"s":0,"v":0},
{"n":5,"s":-5,"v":0.3},{"n":6,"s":-5,"v":0.4},{"n":7,"s":-5,"v":0.5},{"n":8,"s":-5,"v":0.6},{"n":9,"s":-5,"v":0.7},{"n":10,"s":-5,"v":0.75},{"n":11,"s":-5,"v":0.75},{"n":12,"s":-5,"v":0.75},{"n":13,"s":-5,"v":0.7},{"n":14,"s":-5,"v":0.65},{"n":15,"s":-5,"v":0.5},{"n":16,"s":-5,"v":0.4},{"n":17,"s":-5,"v":0.3},{"n":18,"s":-5,"v":0.2},{"n":19,"s":-5,"v":0.12},{"n":20,"s":-5,"v":0.08},{"n":21,"s":-5,"v":0.05},{"n":22,"s":-5,"v":0.02},{"n":23,"s":-5,"v":0},{"n":24,"s":-5,"v":0},{"n":25,"s":-5,"v":0},{"n":26,"s":-5,"v":0},{"n":27,"s":-5,"v":0},{"n":28,"s":-5,"v":0},{"n":29,"s":-5,"v":0},{"n":30,"s":-5,"v":0},{"n":31,"s":-5,"v":0},{"n":32,"s":-5,"v":0},{"n":33,"s":-5,"v":0},{"n":34,"s":-5,"v":0},{"n":35,"s":-5,"v":0},{"n":36,"s":-5,"v":0},{"n":37,"s":-5,"v":0},{"n":38,"s":-5,"v":0},{"n":39,"s":-5,"v":0},{"n":40,"s":-5,"v":0},{"n":41,"s":-5,"v":0},{"n":42,"s":-5,"v":0},{"n":43,"s":-5,"v":0},{"n":44,"s":-5,"v":0},{"n":45,"s":-5,"v":0},{"n":46,"s":-5,"v":0},{"n":47,"s":-5,"v":0},{"n":48,"s":-5,"v":0},{"n":49,"s":-5,"v":0},{"n":50,"s":-5,"v":0}
]},
"bounds":"flush","spacing":30.3,
"vconcat":[
{"width":655.5,"height":115,
"title":{"text":"FVSS-S4","fontSize":27,"fontWeight":"normal","color":"#111111","anchor":"middle","offset":-6},
"data":{"name":"topHist"},
"mark":{"type":"bar","width":15,"color":"#1f77b4"},
"encoding":{
"x":{"field":"n","type":"quantitative","scale":{"domain":[4.5,50.5],"nice":false,"zero":false,"padding":0},"axis":{"title":null,"orient":"bottom","values":[5,7,9,11,13,15,17,19,21,23,25,27,29,31,33,35,37,39,41,43,45,47,49],"tickSize":{"condition":{"test":"(datum.value-5)%10==0","value":-5},"value":-2.5},"labelPadding":7,"labelExpr":"(datum.value-5)%10==0?datum.label:''"}},
"y":{"field":"c","type":"quantitative","scale":{"domain":[0,66],"nice":false},"axis":{"title":"Counts","titleX":-36.8,"titleY":58,"titleAngle":270,"titleAlign":"center","titleBaseline":"alphabetic","values":[0,2,4,6,8,10,12,14,16,18,20,22,24,26,28,30,32,34,36,38,40,42,44,46,48,50,52,54,56,58,60,62,64],"tickSize":{"condition":{"test":"datum.value%10==0","value":-5},"value":-2.5},"labelPadding":11,"labelExpr":"datum.value%10==0?datum.label:''"}}
}},
{"bounds":"flush","spacing":44,
"hconcat":[
{"width":655.5,"height":370,
"layer":[
{"data":{"name":"heat"},
"mark":{"type":"rect","width":15.4,"height":15.4,"clip":true},
"encoding":{
"x":{"field":"n","type":"quantitative","scale":{"domain":[4.5,50.5],"nice":false,"zero":false},"axis":{"title":null,"orient":"bottom","domain":true,"values":[5,7,9,11,13,15,17,19,21,23,25,27,29,31,33,35,37,39,41,43,45,47,49],"tickSize":{"condition":{"test":"(datum.value-5)%10==0","value":3},"value":2},"labelPadding":3,"labelExpr":"(datum.value-5)%10==0?datum.label:''"}},
"y":{"field":"s","type":"quantitative","scale":{"domain":[-7.5,122.5],"nice":false,"zero":false},"axis":{"title":null,"orient":"left","domain":true,"values":[-5,0,5,10,15,20,25,30,35,40,45,50,55,60,65,70,75,80,85,90,95,100,105,110,115,120],"tickSize":{"condition":{"test":"(datum.value+5)%25==0","value":3},"value":2},"labelPadding":5,"labelExpr":"datum.value==-5?'30ᴹ':(datum.value+5)%25==0?datum.label:''"}},
"color":{"field":"v","type":"quantitative","legend":null,"scale":{"domain":[0,0.7,1.4,2.1,2.8,3.5,4.2,4.9,5.6,6.3,7],"range":["#3b4cc0","#5977e3","#7b9ff9","#9ebeff","#c0d4f5","#dddcdc","#f2cbb7","#f7ac8e","#ee8468","#d65244","#b40426"],"interpolate":"rgb"}}
}},
{"data":{"values":[]},"mark":"point",
"encoding":{
"x":{"field":"n","type":"quantitative","scale":{"domain":[4.5,50.5],"nice":false,"zero":false},"axis":{"orient":"bottom","ticks":false,"labels":false,"title":"N","titleFontSize":25,"titleFontStyle":"italic","titleX":303.5,"titleY":50.7,"titleAlign":"left","titleBaseline":"alphabetic"}},
"y":{"field":"s","type":"quantitative","scale":{"domain":[-7.5,122.5],"nice":false,"zero":false},"axis":{"orient":"left","ticks":false,"labels":false,"title":"σ","titleFontSize":25,"titleFontStyle":"italic","titleX":-59.5,"titleY":249.7,"titleAngle":270,"titleAlign":"left","titleBaseline":"alphabetic"}}
}},
{"data":{"values":[]},"mark":"point",
"encoding":{
"x":{"field":"n","type":"quantitative","scale":{"domain":[4.5,50.5],"nice":false,"zero":false},"axis":{"orient":"bottom","ticks":false,"labels":false,"title":"min","titleFontSize":17.5,"titleX":321.5,"titleY":53.4,"titleAlign":"left","titleBaseline":"alphabetic"}},
"y":{"field":"s","type":"quantitative","scale":{"domain":[-7.5,122.5],"nice":false,"zero":false},"axis":{"orient":"left","ticks":false,"labels":false,"title":"cut","titleFontSize":16,"titleX":-57,"titleY":235.7,"titleAngle":270,"titleAlign":"left","titleBaseline":"alphabetic"}}
}},
{"data":{"values":[]},"mark":"point",
"encoding":{
"x":{"field":"n","type":"quantitative","scale":{"domain":[4.5,50.5],"nice":false,"zero":false},"axis":{"orient":"top","domain":true,"ticks":false,"labels":false,"title":null}},
"y":{"field":"s","type":"quantitative","scale":{"domain":[-7.5,122.5],"nice":false,"zero":false},"axis":{"orient":"left","ticks":false,"labels":false,"title":"(kms","titleFontSize":27,"titleFontStyle":"italic","titleX":-59.5,"titleY":215,"titleAngle":270,"titleAlign":"left","titleBaseline":"alphabetic"}}
}},
{"data":{"values":[]},"mark":"point",
"encoding":{
"x":{"field":"n","type":"quantitative","scale":{"domain":[4.5,50.5],"nice":false,"zero":false},"axis":null},
"y":{"field":"s","type":"quantitative","scale":{"domain":[-7.5,122.5],"nice":false,"zero":false},"axis":{"orient":"left","ticks":false,"labels":false,"title":"−1","titleFontSize":19,"titleFontStyle":"italic","titleX":-67,"titleY":156.7,"titleAngle":270,"titleAlign":"left","titleBaseline":"alphabetic"}}
}},
{"data":{"values":[]},"mark":"point",
"encoding":{
"x":{"field":"n","type":"quantitative","scale":{"domain":[4.5,50.5],"nice":false,"zero":false},"axis":null},
"y":{"field":"s","type":"quantitative","scale":{"domain":[-7.5,122.5],"nice":false,"zero":false},"axis":{"orient":"left","ticks":false,"labels":false,"title":")","titleFontSize":27,"titleFontStyle":"italic","titleX":-59.5,"titleY":130.2,"titleAngle":270,"titleAlign":"left","titleBaseline":"alphabetic"}}
}},
{"data":{"values":[]},"mark":"point",
"encoding":{
"x":{"field":"n","type":"quantitative","scale":{"domain":[4.5,50.5],"nice":false,"zero":false},"axis":null},
"y":{"field":"s","type":"quantitative","scale":{"domain":[-7.5,122.5],"nice":false,"zero":false},"axis":{"orient":"right","domain":true,"ticks":false,"labels":false,"title":null}}
}}
],
"resolve":{"axis":{"x":"independent","y":"independent"}}
},
{"bounds":"flush","spacing":40.7,
"hconcat":[
{"width":121,"height":372,
"data":{"name":"rightHist"},
"mark":{"type":"bar","orient":"horizontal","height":15.3,"color":"#1f77b4"},
"encoding":{
"y":{"field":"s","type":"quantitative","scale":{"domain":[-7.5,122.5],"nice":false,"zero":false,"padding":0},"axis":{"title":null,"orient":"left","values":[-5,0,5,10,15,20,25,30,35,40,45,50,55,60,65,70,75,80,85,90,95,100,105,110,115,120],"tickSize":{"condition":{"test":"(datum.value+5)%25==0","value":-5},"value":-2.5},"labelPadding":10,"labelExpr":"datum.value==-5?'30ᴹ':(datum.value+5)%25==0?datum.label:''"}},
"x":{"field":"c","type":"quantitative","scale":{"domain":[0,37.8],"nice":false},"axis":{"title":"Counts","titleX":60,"titleY":42.7,"titleAlign":"center","titleBaseline":"alphabetic","values":[0,5,10,15,20,25,30,35],"tickSize":{"condition":{"test":"datum.value%20==0","value":-5},"value":-2.5},"labelPadding":5,"labelExpr":"datum.value%20==0?datum.label:''"}}
}},
{"width":10,"height":372,
"data":{"values":[{"lo":0,"hi":7}]},
"mark":{"type":"rect","fill":{"gradient":"linear","x1":0,"y1":1,"x2":0,"y2":0,"stops":[{"offset":0,"color":"#3b4cc0"},{"offset":0.1,"color":"#5977e3"},{"offset":0.2,"color":"#7b9ff9"},{"offset":0.3,"color":"#9ebeff"},{"offset":0.4,"color":"#c0d4f5"},{"offset":0.5,"color":"#dddcdc"},{"offset":0.6,"color":"#f2cbb7"},{"offset":0.7,"color":"#f7ac8e"},{"offset":0.8,"color":"#ee8468"},{"offset":0.9,"color":"#d65244"},{"offset":1,"color":"#b40426"}]}},
"encoding":{
"y":{"field":"lo","type":"quantitative","scale":{"domain":[0,7],"nice":false},"axis":{"orient":"right","values":[0,1,2,3,4,5,6,7],"tickSize":4,"labelFontSize":15,"labelPadding":3,"title":"N. streams/bin","titleX":34,"titleY":186,"titleAngle":270,"titleAlign":"center","titleBaseline":"alphabetic"}},
"y2":{"field":"hi"}
}}
]}
]}
]}
